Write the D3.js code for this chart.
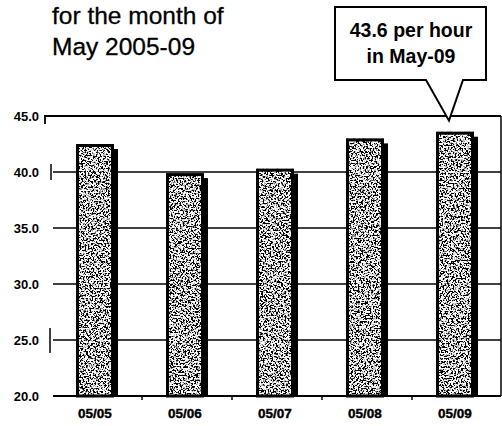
<!DOCTYPE html>
<html><head><meta charset="utf-8">
<script src="https://cdn.jsdelivr.net/npm/d3@7"></script>
<style>body{margin:0;background:#fff}svg{display:block}</style>
</head><body>
<svg id="c" width="502" height="426"></svg>
<script>
const categories = ["05/05","05/06","05/07","05/08","05/09"];
const values = [42.5, 39.9, 40.3, 43.0, 43.6];
const yTicks = [20, 25, 30, 35, 40, 45];
const titleLines = ["for the month of", "May 2005-09"];
const calloutLines = ["43.6 per hour", "in May-09"];
const calloutIndex = 4;

const svg = d3.select("#c");
const font = "'Liberation Sans', Arial, sans-serif";

const defs = svg.append("defs");
const f = defs.append("filter").attr("id","speckle").attr("x",0).attr("y",0).attr("width","100%").attr("height","100%");
f.append("feTurbulence").attr("type","fractalNoise").attr("baseFrequency","0.6").attr("numOctaves",2).attr("seed",7).attr("result","n");
f.append("feColorMatrix").attr("in","n").attr("type","matrix")
  .attr("values","0 0 0 0 0  0 0 0 0 0  0 0 0 0 0  9 0 0 0 -4.1").attr("result","dots");
f.append("feComposite").attr("in","dots").attr("in2","SourceAlpha").attr("operator","in").attr("result","d2");
const m = f.append("feMerge");
m.append("feMergeNode").attr("in","SourceGraphic");
m.append("feMergeNode").attr("in","d2");

const x = d3.scaleBand().domain(categories).range([52, 502]).padding(0);
const y = d3.scaleLinear().domain([20, 45]).range([396, 116]);

// title
svg.append("g").selectAll("text").data(titleLines).join("text")
  .attr("x", 52).attr("y", (d,i)=> 23.5 + i*31)
  .attr("font-family", font).attr("font-size", 24.5).attr("fill","#000")
  .attr("stroke","#000").attr("stroke-width",0.3)
  .text(d=>d);

// gridlines (25..40)
svg.append("g").selectAll("line").data(yTicks.filter(v=>v>20 && v<45)).join("line")
  .attr("x1", 53).attr("x2", 501).attr("y1", d=>y(d)).attr("y2", d=>y(d))
  .attr("stroke","#000").attr("stroke-width",1.5);

// top frame line and right border
svg.append("line").attr("x1",44).attr("x2",501).attr("y1",y(45)).attr("y2",y(45)).attr("stroke","#000").attr("stroke-width",1.8);
svg.append("line").attr("x1",501).attr("x2",501).attr("y1",y(45)).attr("y2",y(20)).attr("stroke","#000").attr("stroke-width",1.5);
// left axis fragments
svg.append("line").attr("x1",45).attr("x2",45).attr("y1",y(45)).attr("y2",y(45)+8).attr("stroke","#000").attr("stroke-width",1.8);
svg.append("line").attr("x1",51).attr("x2",51).attr("y1",y(40)-8).attr("y2",y(40)+8).attr("stroke","#000").attr("stroke-width",1.5);
svg.append("line").attr("x1",50).attr("x2",50).attr("y1",y(25)-12).attr("y2",y(25)+13).attr("stroke","#000").attr("stroke-width",1.5);

// bottom axis
svg.append("line").attr("x1",53).attr("x2",501).attr("y1",y(20)).attr("y2",y(20)).attr("stroke","#000").attr("stroke-width",2);
svg.append("g").selectAll("line").data(categories.slice(1)).join("line")
  .attr("x1", d=>x(d)).attr("x2", d=>x(d)).attr("y1", y(20)).attr("y2", y(20)+4)
  .attr("stroke","#000").attr("stroke-width",1.5);

// y labels
svg.append("g").selectAll("text").data(yTicks).join("text")
  .attr("x", 39).attr("y", d=>y(d)+4.5).attr("text-anchor","end")
  .attr("font-family", font).attr("font-weight","bold").attr("font-size",13).attr("fill","#000")
  .text(d=>d.toFixed(1));

// x labels
const bw = 38;
const bx = d => x(d) + x.bandwidth()/2 - 21;
svg.append("g").selectAll("text").data(categories).join("text")
  .attr("x", d=>bx(d)+bw/2).attr("y", 418).attr("text-anchor","middle")
  .attr("font-family", font).attr("font-weight","bold").attr("font-size",13.5).attr("fill","#000")
  .attr("stroke","#000").attr("stroke-width",0.4)
  .text(d=>d);

// bars
const bars = svg.append("g");
const data = categories.map((c,i)=>({c, v: values[i]}));
bars.selectAll("rect.sh").data(data).join("rect").attr("class","sh")
  .attr("x", d=>bx(d.c)+bw-2).attr("y", d=>y(d.v)+5).attr("width", 6)
  .attr("height", d=>y(20)-y(d.v)-5).attr("fill","#000");
bars.selectAll("rect.b").data(data).join("rect").attr("class","b")
  .attr("x", d=>bx(d.c)).attr("y", d=>y(d.v)).attr("width", bw)
  .attr("height", d=>y(20)-y(d.v)).attr("fill","#fff").attr("filter","url(#speckle)");
bars.selectAll("rect.o").data(data).join("rect").attr("class","o")
  .attr("x", d=>bx(d.c)+1.5).attr("y", d=>y(d.v)+1.5).attr("width", bw-3)
  .attr("height", d=>y(20)-y(d.v)-1.5).attr("fill","none").attr("stroke","#000").attr("stroke-width",3);

// callout
const tipX = bx(categories[calloutIndex]) + bw/2 - 6, tipY = y(values[calloutIndex]) - 11;
const bx0 = 335, bx1 = 486, by0 = 7, by1 = 80;
svg.append("path")
  .attr("d", `M${bx0},${by0}H${bx1}V${by1}H463L${tipX},${tipY}L426,${by1}H${bx0}Z`)
  .attr("fill","#fff").attr("stroke","#000").attr("stroke-width",2);
svg.append("g").selectAll("text").data(calloutLines).join("text")
  .attr("x", 411).attr("y", (d,i)=>37 + i*26).attr("text-anchor","middle")
  .attr("font-family", font).attr("font-weight","bold").attr("font-size",19.5).attr("fill","#000")
  .text(d=>d);
</script>
</body></html>
